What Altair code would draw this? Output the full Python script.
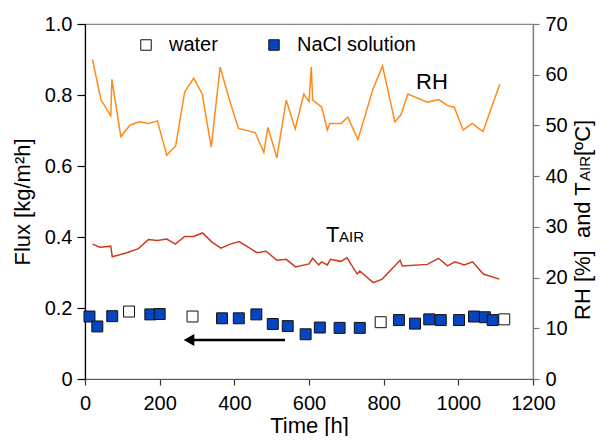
import altair as alt
import pandas as pd

# ---- data ----
nacl_time = [12, 33, 73, 175, 200, 367, 412, 459, 503, 543, 591, 629, 682, 736,
             841, 884, 922, 953, 1002, 1042, 1071, 1092]
nacl_flux = [0.176, 0.148, 0.177, 0.182, 0.183, 0.171, 0.171, 0.182, 0.155, 0.149,
             0.126, 0.145, 0.144, 0.144, 0.166, 0.156, 0.168, 0.166, 0.166, 0.176,
             0.174, 0.166]
water_time = [118, 288, 792, 1123]
water_flux = [0.190, 0.176, 0.160, 0.168]

rh_time = [20, 43, 69, 72, 96, 121, 146, 170, 194, 219, 243, 267, 291, 314, 338, 362,
           387, 411, 456, 479, 490, 514, 539, 563, 586, 600, 606, 610, 634, 649, 656,
           686, 704, 731, 772, 797, 830, 846, 865, 917, 948, 971, 989, 1013, 1037,
           1066, 1111]
rh_val = [63.0, 55.0, 51.9, 59.1, 47.8, 50.1, 50.7, 50.4, 50.9, 44.1, 46.0, 56.6,
          59.3, 56.2, 45.7, 61.5, 55.0, 49.4, 48.6, 44.7, 49.6, 43.6, 55.0, 49.3,
          56.2, 54.7, 61.5, 55.0, 53.6, 49.1, 50.4, 50.4, 51.6, 47.2, 57.3, 61.7,
          50.7, 52.1, 56.2, 54.6, 55.1, 53.9, 53.6, 49.1, 50.4, 48.8, 58.1]

t_time = [20, 40, 69, 73, 112, 143, 170, 194, 219, 242, 267, 291, 315, 340, 364, 389,
          413, 437, 461, 485, 514, 539, 564, 600, 610, 626, 634, 649, 658, 685, 702,
          729, 736, 772, 796, 844, 850, 917, 947, 971, 991, 1016, 1038, 1067, 1110]
t_val = [26.6, 26.0, 26.2, 24.1, 24.9, 25.7, 27.5, 27.3, 27.6, 26.6, 28.1, 28.1, 28.8,
         27.0, 25.8, 26.6, 27.1, 26.0, 24.9, 25.2, 23.4, 23.6, 22.1, 22.7, 23.8, 22.5,
         23.1, 22.5, 23.6, 23.2, 23.9, 20.7, 21.3, 19.0, 19.7, 23.4, 22.3, 22.6, 23.8,
         22.3, 23.1, 22.5, 23.1, 20.7, 19.7]

series_names = ["water", "NaCl solution"]
x_ticks = [0, 200, 400, 600, 800, 1000, 1200]
left_ticks = [0, 0.2, 0.4, 0.6, 0.8, 1.0]
right_ticks = [0, 10, 20, 30, 40, 50, 60, 70]

FONT = "Liberation Sans"
BLUE = "#0645c0"
ORANGE = "#ff8a19"
RED = "#d03a1c"

pts = pd.DataFrame({
    "time": water_time + nacl_time,
    "flux": water_flux + nacl_flux,
    "series": ["water"] * len(water_time) + ["NaCl solution"] * len(nacl_time),
})
rh_df = pd.DataFrame({"time": rh_time, "value": rh_val})
t_df = pd.DataFrame({"time": t_time, "value": t_val})
one = pd.DataFrame({"k": [0]})

x_enc = alt.X("time:Q", scale=alt.Scale(domain=[0, 1200], nice=False),
              axis=alt.Axis(values=x_ticks, title="Time [h]", format="d", tickSize=6,
                            labelPadding=8, titlePadding=2, domainColor="#555555",
                            tickColor="#333333", labelFlush=False))

points = alt.Chart(pts).mark_point(
    shape="square", filled=True, size=120, stroke="#111111", strokeWidth=1, opacity=1
).encode(
    x=x_enc,
    y=alt.Y("flux:Q", scale=alt.Scale(domain=[0, 1], nice=False),
            axis=alt.Axis(values=left_ticks, title="Flux [kg/m²h]", tickSize=8,
                          labelPadding=5, titlePadding=10, domainColor="#000000",
                          tickColor="#000000", labelFlush=False,
                          labelExpr="datum.value == 0 ? '0' : format(datum.value, '.1f')")),
    color=alt.Color("series:N",
                    scale=alt.Scale(domain=series_names, range=["#ffffff", BLUE]),
                    legend=alt.Legend(title=None, orient="none", direction="horizontal",
                                      legendX=51, legendY=11, symbolType="square",
                                      symbolSize=110, symbolStrokeColor="#111111",
                                      symbolStrokeWidth=1, symbolOpacity=1,
                                      labelFont=FONT, labelFontSize=20, labelColor="black",
                                      labelOffset=13, columnPadding=46, padding=0)),
)

arrow_line = alt.Chart(one).mark_rule(color="black", strokeWidth=2.5).encode(
    x=alt.value(106), x2=alt.value(200), y=alt.value(316))
arrow_head = alt.Chart(one).mark_point(shape="triangle-left", filled=True, color="black",
                                       size=150, opacity=1).encode(
    x=alt.value(104), y=alt.value(316))

left = alt.layer(points, arrow_line, arrow_head)

y_right = alt.Y("value:Q", scale=alt.Scale(domain=[0, 70], nice=False),
                axis=alt.Axis(orient="right", values=right_ticks, title=None, tickSize=6,
                              labelPadding=6, domainColor="#777777", tickColor="#777777",
                              labelFlush=False))
rh_line = alt.Chart(rh_df).mark_line(color=ORANGE, strokeWidth=1.5).encode(x=x_enc, y=y_right)
t_line = alt.Chart(t_df).mark_line(color=RED, strokeWidth=1.5).encode(x=x_enc, y=y_right)
right = alt.layer(rh_line, t_line)


def label(text, x, y, size, align="left", angle=0):
    return alt.Chart(pd.DataFrame({"txt": [text]})).mark_text(
        font=FONT, fontSize=size, fontWeight="normal", color="black",
        align=align, baseline="alphabetic", angle=angle
    ).encode(text="txt:N", x=alt.value(x), y=alt.value(y))


annotations = [
    label("RH", 347, 65, 22, align="center"),
    label("T", 241, 218, 22),
    label("AIR", 254, 218, 15),
    label("RH [%]\u00a0\u00a0and T", 505, 296, 22, angle=270),
    label("AIR", 505, 157, 15, angle=270),
    label("[ºC]", 505, 132, 22, angle=270),
]

chart = alt.layer(left, right, *annotations).resolve_scale(
    y="independent"
).properties(
    width=448, height=355,
    padding={"left": 77, "top": 16, "right": 64, "bottom": 57},
    autosize=alt.AutoSizeParams(type="none"),
).configure_axis(
    labelFont=FONT, titleFont=FONT, labelFontSize=20, titleFontSize=22,
    labelColor="black", titleColor="black", titleFontWeight="normal", grid=False,
    domainWidth=1.2, tickWidth=1.2,
).configure_view(stroke="#888888", strokeWidth=1.2)

chart.save("out.html", embed_options={"renderer": "svg", "actions": False})
